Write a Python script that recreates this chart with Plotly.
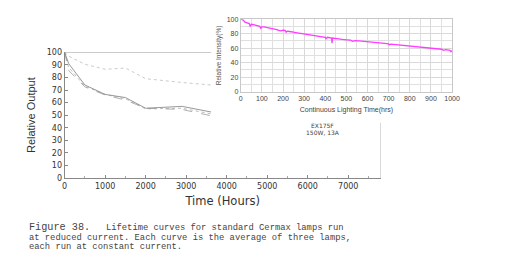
import plotly.graph_objects as go

# ---- main chart data (Relative Output vs Time) ----
hours_main = [0, 100, 500, 1000, 1500, 2000, 2900, 3614]
curve_top = [100, 97, 90.5, 86.5, 87.5, 79, 76, 74]
curve_solid = [100, 91, 74, 66.5, 64, 55.5, 57, 52.5]
curve_dashed = [100, 85.5, 72.5, 66, 62, 55.5, 54.5, 49.5]
curve_dotted = [100, 88, 73, 66.5, 63, 55, 55.5, 51]
main_xticks = [0, 1000, 2000, 3000, 4000, 5000, 6000, 7000]
main_yticks = [0, 10, 20, 30, 40, 50, 60, 70, 80, 90, 100]

# ---- inset data (EX175F relative intensity) ----
hours_inset = [0, 10, 20, 30, 40, 45, 50, 60, 70, 80, 90, 95, 100, 110, 120, 130,
               140, 150, 160, 170, 180, 190, 200, 210, 215, 220, 230, 240, 250,
               260, 270, 280, 290, 300, 320, 340, 360, 380, 400, 403, 410, 430,
               432, 434, 450, 480, 500, 520, 530, 540, 560, 600, 640, 680, 700,
               702, 710, 750, 800, 850, 900, 950, 960, 970, 990, 995, 1000]
intensity = [100, 99, 96, 95, 94, 90, 93, 92.5, 91.5, 91, 90, 87.5, 89.5, 89.5,
             89, 88.5, 88, 87, 86, 85.5, 84.5, 84, 85, 84.5, 82, 83.5, 83, 82,
             82, 81.5, 81, 80.5, 79.5, 79.5, 78.5, 77.5, 77, 76, 75, 73, 75, 74,
             67, 74, 73, 72, 71.5, 71, 69.5, 70.5, 70, 68.5, 67.5, 66.5, 66,
             64.5, 65.5, 64.5, 63, 61.5, 60, 58.5, 57, 58, 57, 55, 56.5]
inset_xticks = [0, 100, 200, 300, 400, 500, 600, 700, 800, 900, 1000]
inset_yticks = [0, 20, 40, 60, 80, 100]

W, H = 509, 269
def px(x):
    return x / W
def py(y):
    return 1 - y / H

fig = go.Figure()

fig.add_trace(go.Scatter(x=hours_main, y=curve_top, mode="lines",
                         line=dict(color="#c4c4c4", width=0.9, dash="dot"),
                         xaxis="x", yaxis="y", showlegend=False))
fig.add_trace(go.Scatter(x=hours_main, y=curve_dotted, mode="lines",
                         line=dict(color="#b4b4b4", width=0.9, dash="dot"),
                         xaxis="x", yaxis="y", showlegend=False))
fig.add_trace(go.Scatter(x=hours_main, y=curve_dashed, mode="lines",
                         line=dict(color="#a8a8a8", width=0.9, dash="dash"),
                         xaxis="x", yaxis="y", showlegend=False))
fig.add_trace(go.Scatter(x=hours_main, y=curve_solid, mode="lines",
                         line=dict(color="#8c8c8c", width=0.9),
                         xaxis="x", yaxis="y", showlegend=False))

fig.add_trace(go.Scatter(x=hours_inset, y=intensity, mode="lines",
                         line=dict(color="#ff3cff", width=1.3),
                         xaxis="x2", yaxis="y2", showlegend=False))

tickfont_main = dict(family="DejaVu Sans", size=8, color="#333333")
tickfont_inset = dict(family="Liberation Sans", size=7, color="#444444")

fig.update_layout(
    width=W, height=H,
    margin=dict(l=0, r=0, t=0, b=0),
    paper_bgcolor="white", plot_bgcolor="white",
    xaxis=dict(domain=[px(63), px(386)], range=[0, 7800], anchor="y",
               tickvals=main_xticks, ticks="inside", ticklen=3,
               tickcolor="#888", tickfont=tickfont_main,
               showgrid=False, zeroline=False, showline=True,
               linecolor="#888", linewidth=1,
               minor=dict(tickvals=[500, 1500, 2500, 3500, 4500, 5500, 6500, 7500],
                          ticks="inside", ticklen=2, tickcolor="#aaa"),
               title=dict(text="Time (Hours)", standoff=7,
                          font=dict(family="DejaVu Sans", size=11.5, color="#333"))),
    yaxis=dict(domain=[py(180), py(50)], range=[0, 100], anchor="x",
               tickvals=main_yticks, ticks="inside", ticklen=3,
               tickcolor="#888", tickfont=tickfont_main,
               showgrid=False, zeroline=False, showline=True,
               linecolor="#888", linewidth=1,
               title=dict(text="Relative Output", standoff=8,
                          font=dict(family="Liberation Sans Narrow, Liberation Sans", size=11, color="#333"))),
    xaxis2=dict(domain=[px(243), px(459)], range=[0, 1000], anchor="y2",
                tickvals=inset_xticks, ticks="", tickfont=tickfont_inset,
                showgrid=True, gridcolor="#d9d9d9", gridwidth=1,
                minor=dict(tickvals=[50, 150, 250, 350, 450, 550, 650, 750, 850, 950],
                           showgrid=True, gridcolor="#e0e0e0"),
                zeroline=False, showline=True, linecolor="#c8c8c8", mirror=True,
                title=dict(text="Continuous Lighting Time(hrs)", standoff=6,
                           font=dict(family="Liberation Sans", size=7, color="#444"))),
    yaxis2=dict(domain=[py(90.7), py(15.7)], range=[0, 100], anchor="x2",
                tickvals=inset_yticks, ticks="", tickfont=tickfont_inset,
                showgrid=True, gridcolor="#d9d9d9", gridwidth=1,
                minor=dict(tickvals=[10, 30, 50, 70, 90], showgrid=True, gridcolor="#e0e0e0"),
                zeroline=False, showline=True, linecolor="#c8c8c8", mirror=True,
                title=dict(text="Relative Intensity(%)", standoff=4,
                           font=dict(family="Liberation Sans", size=6.5, color="#555"))),
)

# frame pieces of the main chart that remain visible around the inset
fig.add_shape(type="line", xref="x", yref="y", x0=0, x1=3614, y0=100, y1=100,
              line=dict(color="#aaa", width=1))
fig.add_shape(type="line", xref="x", yref="y", x0=7800, x1=7800, y0=0, y1=44,
              line=dict(color="#bbb", width=1))

ann = []
ann.append(dict(text="EX175F", x=px(327), y=py(126), xref="paper", yref="paper",
                yanchor="middle", showarrow=False,
                font=dict(family="DejaVu Sans", size=6, color="#444")))
ann.append(dict(text="150W, 13A", x=px(327), y=py(132.5), xref="paper", yref="paper",
                yanchor="middle", showarrow=False,
                font=dict(family="DejaVu Sans", size=6, color="#444")))

cap_font = dict(family="Liberation Mono", size=8.8, color="#444")
ann.append(dict(text="Figure 38.", x=px(25), y=py(231.5), xref="paper", yref="paper",
                xanchor="left", yanchor="middle", showarrow=False,
                font=dict(family="Liberation Mono", size=10.2, color="#444")))
ann.append(dict(text="Lifetime curves for standard Cermax lamps run", x=px(103), y=py(231.5),
                xref="paper", yref="paper", xanchor="left", yanchor="middle",
                showarrow=False, font=cap_font))
ann.append(dict(text="at reduced current. Each curve is the average of three lamps,",
                x=px(25), y=py(242), xref="paper", yref="paper", xanchor="left",
                yanchor="middle", showarrow=False, font=cap_font))
ann.append(dict(text="each run at constant current.", x=px(25), y=py(251.5),
                xref="paper", yref="paper", xanchor="left", yanchor="middle",
                showarrow=False, font=cap_font))
fig.update_layout(annotations=ann)

fig.write_html("out.html")
